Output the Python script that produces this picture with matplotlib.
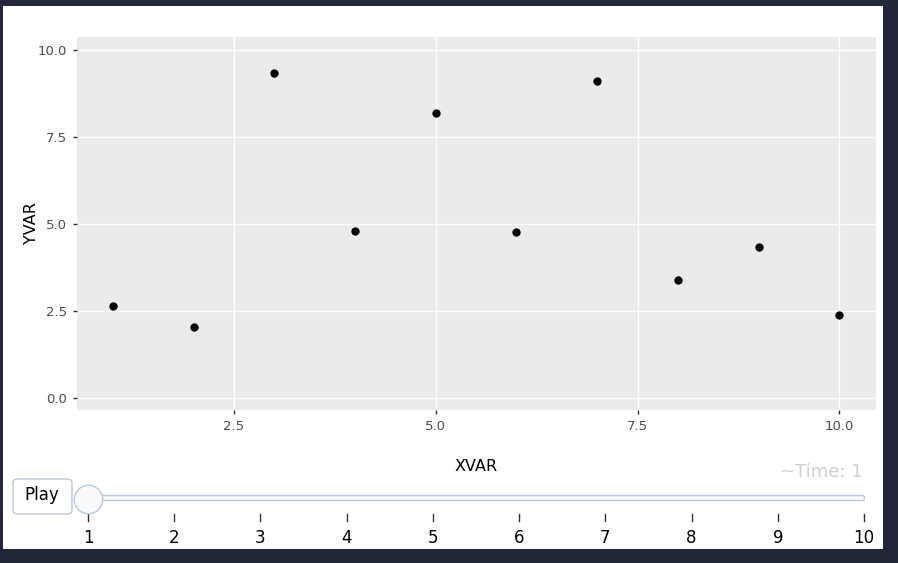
import matplotlib
matplotlib.use("Agg")
import matplotlib.pyplot as plt
from matplotlib.patches import FancyBboxPatch, Rectangle

xvar = [1, 2, 3, 4, 5, 6, 7, 8, 9, 10]
yvar = [2.64, 2.04, 9.34, 4.80, 8.19, 4.77, 9.11, 3.39, 4.34, 2.39]
xticks = [2.5, 5.0, 7.5, 10.0]
yticks = [0.0, 2.5, 5.0, 7.5, 10.0]
steps = [1, 2, 3, 4, 5, 6, 7, 8, 9, 10]

W, H = 898, 563
fig = plt.figure(figsize=(W / 100, H / 100), dpi=100)
fig.patch.set_facecolor("#212739")

def fx(px):
    return px / W

def fy(py):
    return 1 - py / H

# white page
fig.patches.append(Rectangle((fx(3), fy(549)), fx(883) - fx(3), fy(6) - fy(549),
                             transform=fig.transFigure, facecolor="white",
                             edgecolor="none", zorder=-10))

# main panel
ax = fig.add_axes([fx(77), fy(410), fx(876) - fx(77), fy(37) - fy(410)])
ax.set_facecolor("#ebebeb")
ax.scatter(xvar, yvar, s=36, color="black", zorder=3, linewidths=0)
ax.set_xlim(0.554, 10.455)
ax.set_ylim(-0.345, 10.37)
ax.set_xticks(xticks)
ax.set_xticklabels([f"{v:.1f}" for v in xticks])
ax.set_yticks(yticks)
ax.set_yticklabels([f"{v:.1f}" for v in yticks])
ax.grid(True, color="white", linewidth=1.0)
ax.set_axisbelow(True)
for s in ax.spines.values():
    s.set_visible(False)
ax.tick_params(axis="both", length=3, width=1, color="#333333",
               labelcolor="#4d4d4d", labelsize=9.5, pad=4)
ax.set_xlabel("XVAR", fontsize=11.5, color="black", labelpad=19)
ax.set_ylabel("YVAR", fontsize=11.5, color="black", labelpad=-1)

# "~Time: 1" label
fig.text(fx(863), fy(472), "~Time: 1", ha="right", va="center",
         fontsize=13, color="#d0d0d0")

# Play button
fig.patches.append(FancyBboxPatch((fx(13), fy(514)), fx(72) - fx(13), fy(479) - fy(514),
                                  boxstyle="round,pad=0,rounding_size=0.006",
                                  transform=fig.transFigure, facecolor="white",
                                  edgecolor="#bec8d9", linewidth=1))
fig.text(fx(42), fy(495), "Play", ha="center", va="center", fontsize=12, color="black")

# slider
sax = fig.add_axes([fx(88), fy(540), fx(864) - fx(88), fy(486) - fy(540)])
sax.set_xlim(steps[0], steps[-1])
sax.set_ylim(540, 486)
sax.axis("off")
sax.patch.set_alpha(0)
sax.add_patch(FancyBboxPatch((steps[0], 495.5), steps[-1] - steps[0] + 0.003, 5,
                             boxstyle="round,pad=0,rounding_size=0.02",
                             facecolor="#f8fafc", edgecolor="#bec8d9", linewidth=1,
                             mutation_aspect=50, clip_on=False))
for s in steps:
    sax.plot([s, s], [514, 521], color="#333333", linewidth=1, clip_on=False)
    sax.text(s, 538, str(s), ha="center", va="center", fontsize=12, color="black")
sax.scatter([steps[0]], [498.5], s=420, facecolor="#f8fafc", edgecolor="#bec8d9",
            linewidth=1, zorder=5, clip_on=False)

fig.savefig("out.png", dpi=100, facecolor=fig.get_facecolor())
